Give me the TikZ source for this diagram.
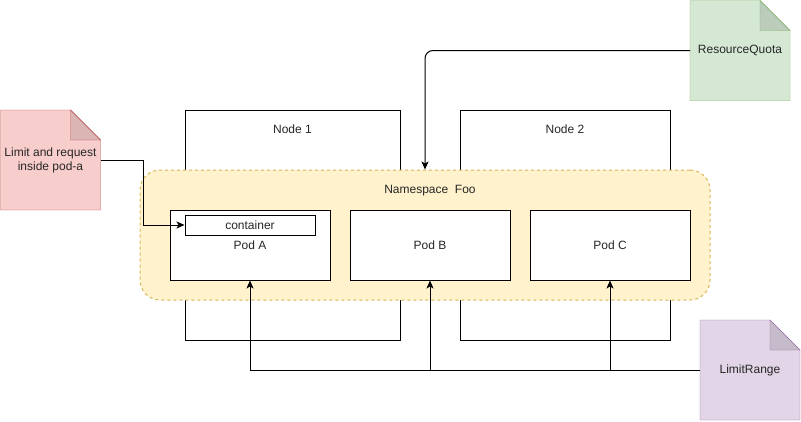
\documentclass[tikz,border=0pt]{standalone}
\usepackage{fontspec}
\setmainfont{Liberation Sans}
\usepackage{tikz}
\usetikzlibrary{arrows.meta,positioning,backgrounds}
\definecolor{notared}{HTML}{F8CECC}
\definecolor{linered}{HTML}{B85450}
\definecolor{notagreen}{HTML}{D5E8D4}
\definecolor{linegreen}{HTML}{82B366}
\definecolor{notapurple}{HTML}{E1D5E7}
\definecolor{linepurple}{HTML}{9673A6}
\definecolor{nsyellow}{HTML}{FFF2CC}
\definecolor{nsyellowline}{HTML}{D6B656}

\begin{document}
\begin{tikzpicture}[x=1pt, y=-1pt, font=\fontsize{12}{14}\selectfont, text=black!85,
  >={Stealth[length=8pt,width=7pt,inset=2pt]}, line width=1pt,
  kbox/.style={draw, fill=white, inner sep=0pt},
  podbox/.style={draw, fill=white, inner sep=0pt, minimum width=160pt, minimum height=70pt},
  nota/.style={inner sep=0pt, minimum width=99pt, minimum height=99pt, align=center}]
\useasboundingbox (0,0) rectangle (801,421);
% nodi del cluster
\node[kbox, minimum width=215pt, minimum height=230pt, label={[anchor=center, yshift=-20pt]north:Node 1}] (n1) at (292.5,225) {};
\node[kbox, minimum width=210pt, minimum height=230pt, label={[anchor=center, yshift=-20pt]north:Node 2}] (n2) at (565,225) {};
\node[draw=nsyellowline, fill=nsyellow, dashed, rounded corners=20pt, minimum width=570pt, minimum height=130pt,
  label={[anchor=center, yshift=-21pt, xshift=5pt]north:Namespace\ \ Foo}] (ns) at (425,235) {};
\node[podbox] (podA) at (250,245) {Pod A};
\node[podbox] (podB) at (430,245) {Pod B};
\node[podbox] (podC) at (610,245) {Pod C};
\node[kbox, minimum width=130pt, minimum height=20pt] (cont) at (250,225) {container};
% note
\node[nota] (lim) at (50.5,160) {Limit and request\\inside pod-a};
\node[nota] (rq) at (740,50.5) {ResourceQuota};
\node[nota] (lr) at (750,370) {LimitRange};
\begin{scope}[on background layer]
\foreach \n/\c in {lim/red, rq/green, lr/purple} {
  \filldraw[fill=nota\c, draw=line\c] (\n.south west) |- ([xshift=-30pt]\n.north east) -- ([yshift=-30pt]\n.north east) |- cycle;
  \filldraw[fill=nota\c!88!black, draw=line\c] ([xshift=-30pt]\n.north east) -- ++(0,30) -- ++(30,0) -- cycle;
}
\end{scope}
% collegamenti
\draw[->] (lim.east) -- ++(43,0) |- (cont.west);
\draw[->, rounded corners=8pt] (rq.west) -| (ns.north);
\foreach \p in {podA, podB, podC}
  \draw[->] (lr.west) -| (\p.south);
\end{tikzpicture}
\end{document}
